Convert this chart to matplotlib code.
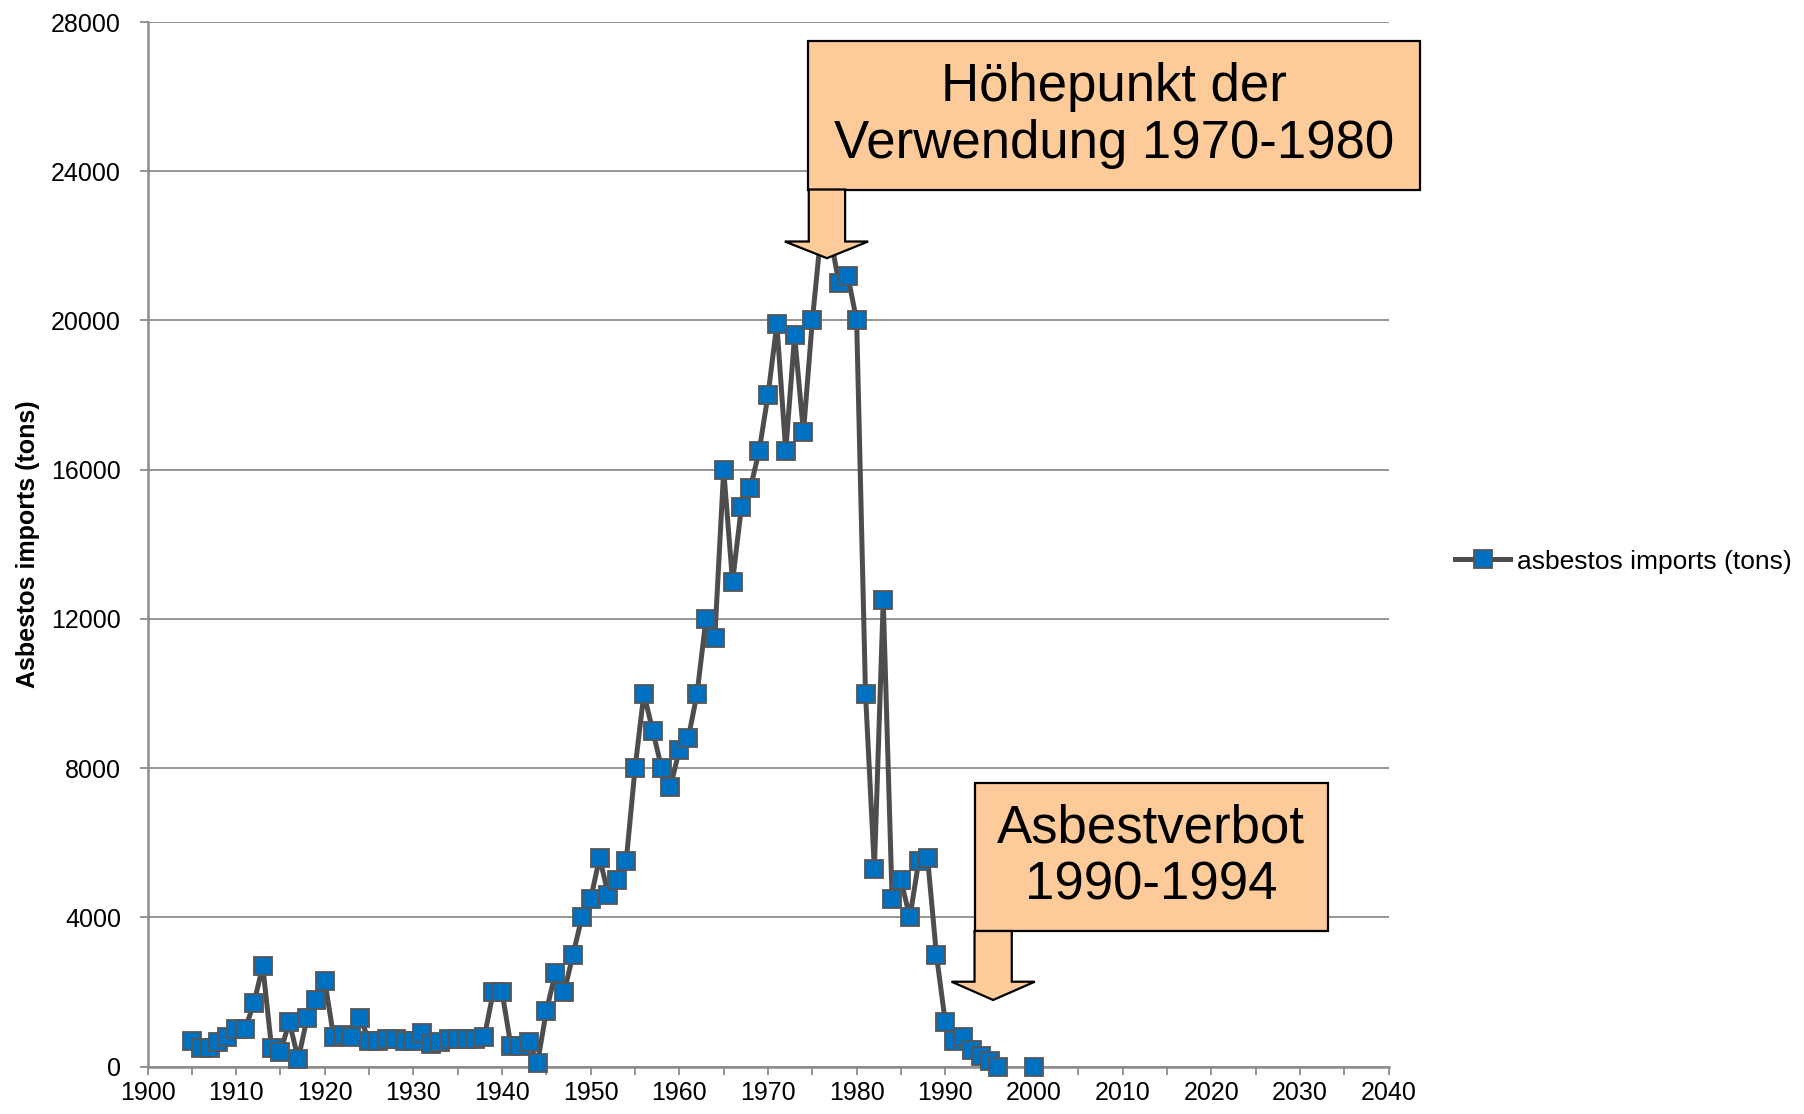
import numpy as np
import matplotlib
matplotlib.use('Agg')
import matplotlib.pyplot as plt
from matplotlib.patches import Rectangle, Polygon
from matplotlib.ticker import MultipleLocator

plt.rcParams['font.family'] = ['Liberation Sans', 'DejaVu Sans']

# asbestos imports per year (tons), 1997-1999 missing
years = list(range(1905, 2001))
imports = [700, 500, 500, 650, 800, 1000, 1000, 1700, 2700, 500,
           400, 1200, 200, 1300, 1800, 2300, 800, 850, 800, 1300,
           700, 700, 750, 750, 700, 700, 900, 600, 650, 750,
           750, 750, 750, 800, 2000, 2000, 550, 550, 650, 100,
           1500, 2500, 2000, 3000, 4000, 4500, 5600, 4600, 5000, 5500,
           8000, 10000, 9000, 8000, 7500, 8500, 8800, 10000, 12000, 11500,
           16000, 13000, 15000, 15500, 16500, 18000, 19900, 16500, 19600, 17000,
           20000, 22400, 22300, 21000, 21200, 20000, 10000, 5300, 12500, 4500,
           5000, 4000, 5500, 5600, 3000, 1200, 700, 800, 450, 300,
           150, 0, None, None, None, 0]
series_label = 'asbestos imports (tons)'
y_label = 'Asbestos imports (tons)'
peak_text = 'Höhepunkt der\nVerwendung 1970-1980'
ban_text = 'Asbestverbot\n1990-1994'

GRID = '#8c8c8c'
PEACH = '#fdcb9a'


def callout(ax, box, shaft, head, tip_y, text):
    x0, x1, y0, y1 = box
    ax.add_patch(Rectangle((x0, y0), x1 - x0, y1 - y0, facecolor=PEACH,
                           edgecolor='black', lw=1.6, zorder=5, clip_on=False))
    sl, sr, sb = shaft
    hl, hr = head
    tip_x = (sl + sr) / 2
    pts = [(sl, y0), (sr, y0), (sr, sb), (hr, sb), (tip_x, tip_y), (hl, sb), (sl, sb)]
    ax.add_patch(Polygon(pts, closed=True, facecolor=PEACH, edgecolor='black',
                         lw=1.6, zorder=5, clip_on=False))
    ax.text((x0 + x1) / 2, (y0 + y1) / 2, text, ha='center', va='center',
            fontsize=38, zorder=6, linespacing=1.18)


fig = plt.figure(figsize=(18.04, 11.14), dpi=100)
ax = fig.add_axes([147.5 / 1804, 1 - 1066.7 / 1114, 1241 / 1804, 1044.7 / 1114])

vals = np.array([np.nan if v is None else v for v in imports], dtype=float)
ax.plot(years, vals, color='#4d4d4d', lw=3.6, marker='s', markersize=12.5,
        markerfacecolor='#0070c0', markeredgecolor='#555555', markeredgewidth=1.3,
        label=series_label, zorder=3, clip_on=False)

ax.set_xlim(1900, 2040)
ax.set_ylim(0, 28000)
ax.xaxis.set_major_locator(MultipleLocator(10))
ax.xaxis.set_minor_locator(MultipleLocator(5))
ax.yaxis.set_major_locator(MultipleLocator(4000))
ax.grid(axis='y', color=GRID, lw=1.3)
ax.set_axisbelow(True)

for s in ['top', 'right']:
    ax.spines[s].set_visible(False)
for s in ['left', 'bottom']:
    ax.spines[s].set_color(GRID)
    ax.spines[s].set_linewidth(1.8)

ax.tick_params(axis='both', which='both', direction='out', length=6, width=1.3,
               color=GRID, labelsize=18)
ax.tick_params(axis='x', which='both', pad=4)
ax.tick_params(axis='y', pad=13)
ax.set_ylabel(y_label, fontsize=18, fontweight='bold', labelpad=8)

callout(ax, (1974.5, 2043.5, 23510, 27480), (1974.6, 1978.7, 22117),
        (1971.9, 1981.3), 21670, peak_text)
callout(ax, (1993.3, 2033.2, 3637, 7612), (1993.3, 1997.5, 2278),
        (1990.7, 2000.1), 1788, ban_text)

fig.legend(loc='center left', bbox_to_anchor=(1455 / 1804, 1 - 561.7 / 1114),
           frameon=False, fontsize=19, handlelength=2.1, handletextpad=0.25,
           borderpad=0, borderaxespad=0)

fig.savefig('out.png', dpi=100)
